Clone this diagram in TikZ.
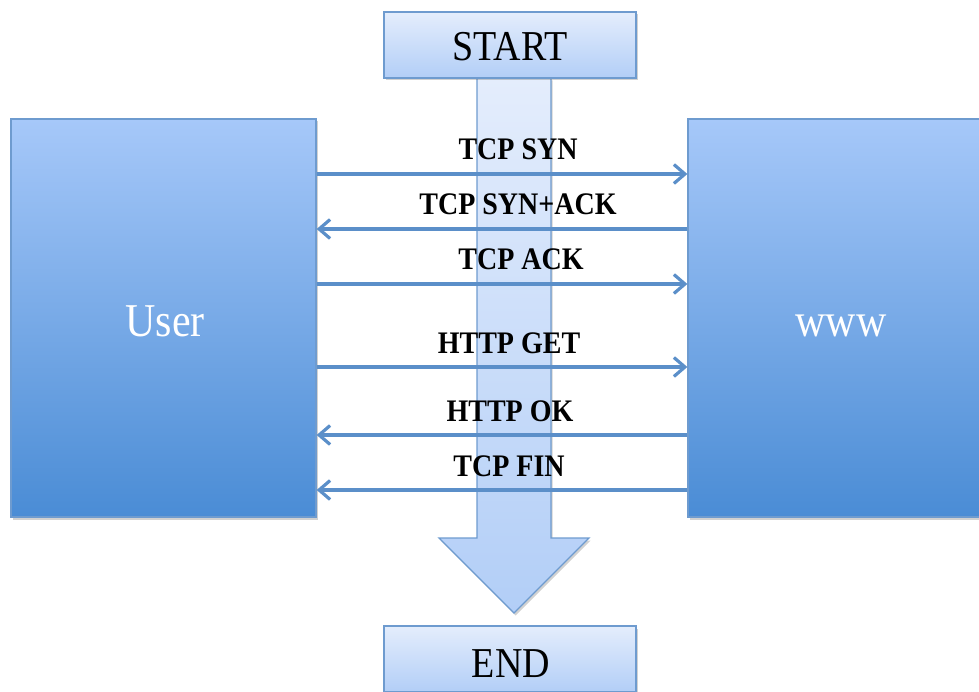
\documentclass[tikz,border=0pt]{standalone}
\usepackage{fontspec}
\usepackage{graphicx}
\setmainfont{Liberation Serif}
\usetikzlibrary{arrows.meta,shadows}

\definecolor{rim}{HTML}{6E9BCF}
\definecolor{msg}{HTML}{5B8FC9}
\definecolor{paleTop}{HTML}{E4EDFC}
\definecolor{paleBot}{HTML}{B2CEF7}
\definecolor{deepTop}{HTML}{A6C8F9}
\definecolor{deepBot}{HTML}{4A8CD5}

\newcommand{\tallish}[1]{\scalebox{1}[1.12]{#1}}

\tikzset{
  softshadow/.style={drop shadow={shadow xshift=1.5pt,shadow yshift=-2.5pt,opacity=.3,fill=black!60}},
  endbox/.style={draw=rim, line width=1.3pt, top color=paleTop, bottom color=paleBot,
    minimum width=252pt, minimum height=66pt, inner sep=0pt, softshadow},
  party/.style={draw=rim, line width=1.3pt, top color=deepTop, bottom color=deepBot,
    minimum height=398pt, inner sep=0pt, softshadow},
  partytext/.style={anchor=base, text=white, font=\fontsize{42}{46}\selectfont},
  endtext/.style={anchor=base, font=\fontsize{38}{42}\selectfont},
  msgline/.style={draw=msg, line width=3.6pt,
    -{Straight Barb[length=11pt,width=19pt,line width=3.2pt]}},
  msglabel/.style={anchor=base, font=\bfseries\fontsize{28}{32}\selectfont},
}

\begin{document}
\begin{tikzpicture}[x=1pt,y=-1pt]
\useasboundingbox (0,0) rectangle (979,692);
\clip (0,0) rectangle (979,692);

% the two parties
\node[party, minimum width=305pt] (user) at (163.5,318) {};
\node[party, minimum width=308pt] (www) at (842,318) {};
\node[partytext] at (165,336) {\tallish{User}};
\node[partytext] at (841,336) {\tallish{www}};

% the wide downward flow arrow behind everything else
\path[draw=rim, line width=1.3pt, top color=paleTop, bottom color=paleBot, softshadow]
  (477,78) -- (551,78) -- (551,538) -- (589,538) -- (514,613) -- (439,538) -- (477,538) -- cycle;

% start and end boxes
\node[endbox] (start) at (510,45) {};
\node[endtext] at (510,61) {\tallish{START}};
\node[endbox] (end) at (510,659) {};
\node[endtext] at (511,677) {\tallish{END}};

% message rows
\coordinate (r1) at (0,174);
\coordinate (r2) at (0,229);
\coordinate (r3) at (0,284);
\coordinate (r4) at (0,367);
\coordinate (r5) at (0,435);
\coordinate (r6) at (0,490);

\draw[msgline] (user.east |- r1) -- (www.west |- r1);
\draw[msgline] (www.west |- r2) -- (user.east |- r2);
\draw[msgline] (user.east |- r3) -- (www.west |- r3);
\draw[msgline] (user.east |- r4) -- (www.west |- r4);
\draw[msgline] (www.west |- r5) -- (user.east |- r5);
\draw[msgline] (www.west |- r6) -- (user.east |- r6);

\node[msglabel] at (518,160) {\tallish{TCP SYN}};
\node[msglabel] at (518,215) {\tallish{TCP SYN+ACK}};
\node[msglabel] at (521,270) {\tallish{TCP ACK}};
\node[msglabel] at (509,353) {\tallish{HTTP GET}};
\node[msglabel] at (510,421) {\tallish{HTTP OK}};
\node[msglabel] at (509,476) {\tallish{TCP FIN}};
\end{tikzpicture}
\end{document}
